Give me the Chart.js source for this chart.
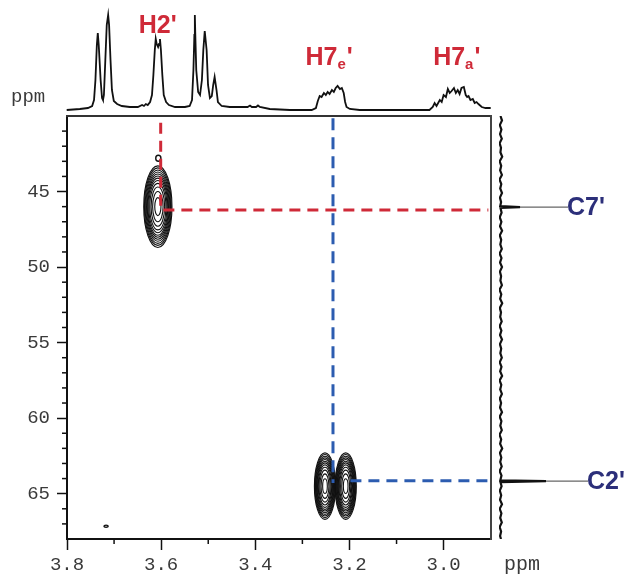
<!DOCTYPE html>
<html>
<head>
<meta charset="utf-8">
<script src="https://cdn.jsdelivr.net/npm/chart.js@4.4.0/dist/chart.umd.min.js"></script>
<style>
  html, body { margin: 0; padding: 0; background: #fff; }
  #wrap { position: relative; width: 624px; height: 576px; overflow: hidden; }
  #wrap canvas { position: absolute; }
</style>
</head>
<body>
<div id="wrap">
  <canvas id="chMain" width="624" height="576" style="left:0;top:0"></canvas>
  <canvas id="chTop" width="624" height="116" style="left:0;top:0"></canvas>
  <canvas id="chRight" width="134" height="576" style="left:490px;top:0"></canvas>
</div>
<script>
// ---- 1H projection (top), ppm vs intensity ----
const protonPpm = [3.800, 3.772, 3.755, 3.746, 3.742, 3.739, 3.736, 3.734, 3.732, 3.728,
  3.725, 3.723, 3.721, 3.718, 3.715, 3.712, 3.710, 3.707, 3.704, 3.700,
  3.693, 3.683, 3.666, 3.649, 3.640, 3.636, 3.632, 3.628, 3.623, 3.619,
  3.616, 3.613, 3.611, 3.609, 3.606, 3.604, 3.602, 3.600, 3.597, 3.594,
  3.589, 3.583, 3.570, 3.549, 3.539, 3.534, 3.531, 3.529, 3.528, 3.527,
  3.525, 3.521, 3.517, 3.513, 3.510, 3.507, 3.503, 3.500, 3.496, 3.492,
  3.489, 3.486, 3.482, 3.479, 3.471, 3.454, 3.416, 3.411, 3.407, 3.398,
  3.394, 3.390, 3.369, 3.326, 3.280, 3.271, 3.267, 3.263, 3.259, 3.254,
  3.250, 3.246, 3.242, 3.237, 3.233, 3.229, 3.225, 3.220, 3.216, 3.212,
  3.209, 3.206, 3.199, 3.178, 3.030, 3.023, 3.019, 3.015, 3.008, 3.004,
  3.000, 2.995, 2.991, 2.987, 2.983, 2.978, 2.974, 2.970, 2.966, 2.962,
  2.957, 2.953, 2.950, 2.947, 2.943, 2.938, 2.934, 2.930, 2.926, 2.919,
  2.911, 2.900];
const protonInt = [0, 1, 2, 4, 10, 30, 65, 77, 65, 30,
  12, 10, 15, 50, 85, 95, 85, 50, 20, 9,
  6, 4, 3, 3, 5, 4, 6, 5, 8, 15,
  35, 60, 71, 66, 63, 66, 71, 60, 35, 15,
  8, 5, 3, 3, 4, 10, 40, 75, 95, 75,
  40, 18, 15, 30, 60, 79, 60, 25, 12, 14,
  25, 33, 20, 8, 4, 3, 3, 4.5, 3, 3,
  4.5, 3, 1, 0, 0, 2, 9, 14, 13, 17,
  15, 18, 16, 20, 18, 22, 24, 21, 22, 17,
  8, 3, 1, 0, 0, 3, 7, 4, 10, 8,
  15, 13, 21, 17, 19, 22, 17, 20, 16, 22,
  23, 15, 13, 14, 10, 11, 7, 8, 6, 3,
  2, 2];

// ---- 13C projection (right), ppm vs intensity ----
const carbonPpm = [40.0, 40.3, 40.6, 40.9, 41.2, 41.5, 41.8, 42.1, 42.4, 42.7,
  43.0, 43.3, 43.6, 43.9, 44.2, 44.5, 44.8, 45.1, 45.4, 45.7,
  45.97, 46.03, 46.09, 46.4, 46.7, 47.0, 47.3, 47.6, 47.9, 48.2,
  48.5, 48.8, 49.1, 49.4, 49.7, 50.0, 50.3, 50.6, 50.9, 51.2,
  51.5, 51.8, 52.1, 52.4, 52.7, 53.0, 53.3, 53.6, 53.9, 54.2,
  54.5, 54.8, 55.1, 55.4, 55.7, 56.0, 56.3, 56.6, 56.9, 57.2,
  57.5, 57.8, 58.1, 58.4, 58.7, 59.0, 59.3, 59.6, 59.9, 60.2,
  60.5, 60.8, 61.1, 61.4, 61.7, 62.0, 62.3, 62.6, 62.9, 63.2,
  63.5, 63.8, 64.11, 64.17, 64.23, 64.5, 64.8, 65.1, 65.4, 65.7,
  66.0, 66.3, 66.6, 66.9, 67.2, 67.5, 67.8, 68.0];
const carbonInt = [1.5, 3, 0.8, 2.4, 1, 2.8, 0.6, 2, 1.4, 3.2,
  0.7, 2.2, 1.1, 2.9, 0.5, 2.3, 1.2, 3, 0.9, 2.1,
  1.2, 21, 1.5, 2.6, 0.7, 2.4, 1, 3.1, 0.8, 2.2,
  1.3, 2.8, 0.6, 2.5, 1, 3, 0.9, 2.1, 1.4, 2.9,
  0.5, 2.3, 1.1, 3.2, 0.8, 2, 1.2, 2.7, 0.6, 2.4,
  1, 3, 0.9, 2.2, 1.3, 2.8, 0.7, 2.5, 1.1, 3.1,
  0.6, 2.3, 1.2, 2.9, 0.8, 2.1, 1, 3, 0.7, 2.4,
  1.3, 2.8, 0.5, 2.2, 1.1, 3.2, 0.9, 2.3, 1.2, 2.7,
  0.6, 2.5, 1.3, 47, 1.4, 2.6, 0.8, 2.2, 1, 3,
  0.7, 2.4, 1.2, 2.8, 0.6, 2.1, 1.1, 2];

// ---- 2D cross peaks (1H ppm, 13C ppm, half widths in ppm) ----
const crossH  = [3.607, 3.252, 3.208];
const crossC  = [46.0, 64.5, 64.5];
const crossDH = [0.030, 0.0225, 0.0225];
const crossDC = [2.7, 2.2, 2.2];
// tiny single-contour spots
const spotH  = [3.606, 3.717];
const spotC  = [42.8, 67.15];
const spotDH = [0.0055, 0.0045];
const spotDC = [0.2, 0.07];

// ---- correlation guides ----
const redGuideX  = [3.601, 3.601, 2.905];
const redGuideY  = [40.45, 46.23, 46.23];
const blueVertX  = [3.235, 3.235];
const blueVertY  = [40.15, 64.3];
const blueHorzX  = [3.198, 2.907];
const blueHorzY  = [64.15, 64.15];

// ---- ticks ----
const xMajorTicks = [3.8, 3.6, 3.4, 3.2, 3.0];
const xMinorTicks = [3.7, 3.5, 3.3, 3.1];
const yMajorTicks = [45, 50, 55, 60, 65];
const yMinorTicks = [41, 42, 43, 44, 46, 47, 48, 49, 51, 52, 53, 54, 56, 57, 58, 59, 61, 62, 63, 64, 66, 67];

// ---- labels ----
const protonLabels = [
  { text: 'H2', sub: '', ppm: 3.607, at: 77 },
  { text: 'H7', sub: 'e', ppm: 3.243, at: 45 },
  { text: 'H7', sub: 'a', ppm: 2.972, at: 45 }
];
const carbonLabels = [
  { text: "C7'", ppm: 46.03, at: 69 },
  { text: "C2'", ppm: 64.17, at: 89 }
];
const c7Leader = [21, 69];
const c2Leader = [47, 89];

const RED = '#cf2a38';
const BLUE = '#2c5cb0';
const NAVY = '#2c2f7a';
const TICK_FONT = { family: 'Liberation Mono', size: 19 };
const TICK_COLOR = '#3a3a3a';
const ringLevels = [1.0, 0.95, 0.90, 0.85, 0.80, 0.75, 0.70, 0.64, 0.57, 0.48, 0.37, 0.22];

const pts = (xs, ys) => xs.map((v, i) => ({ x: v, y: ys[i] }));

// contours drawn through the chart scales
const contourPlugin = {
  id: 'contours',
  beforeDatasetsDraw(chart) {
    const { ctx, scales: { x, y } } = chart;
    const ell = (h, c, dh, dc, levels, lw) => {
      const cx = x.getPixelForValue(h), cy = y.getPixelForValue(c);
      const rx = Math.abs(x.getPixelForValue(h + dh) - cx);
      const ry = Math.abs(y.getPixelForValue(c + dc) - cy);
      ctx.lineWidth = lw;
      levels.forEach(f => {
        ctx.beginPath();
        ctx.ellipse(cx, cy, rx * f, ry * f, 0, 0, Math.PI * 2);
        ctx.stroke();
      });
    };
    ctx.save();
    ctx.strokeStyle = '#111';
    crossH.forEach((h, i) => ell(h, crossC[i], crossDH[i], crossDC[i], ringLevels, 1.1));
    spotH.forEach((h, i) => ell(h, spotC[i], spotDH[i], spotDC[i], [1], 1.4));
    ctx.restore();
  }
};

const axisExtras = {
  id: 'axisExtras',
  afterDraw(chart) {
    const { ctx, chartArea, scales: { x, y } } = chart;
    ctx.save();
    ctx.strokeStyle = '#111';
    ctx.lineWidth = 1.5;
    xMinorTicks.forEach(v => {
      const px = x.getPixelForValue(v);
      ctx.beginPath(); ctx.moveTo(px, chartArea.bottom); ctx.lineTo(px, chartArea.bottom + 5); ctx.stroke();
    });
    yMinorTicks.forEach(v => {
      const py = y.getPixelForValue(v);
      ctx.beginPath(); ctx.moveTo(chartArea.left, py); ctx.lineTo(chartArea.left - 5, py); ctx.stroke();
    });
    ctx.fillStyle = TICK_COLOR;
    ctx.font = '20px "Liberation Mono"';
    ctx.textBaseline = 'alphabetic';
    ctx.fillText('ppm', 504, 570);
    ctx.restore();
  }
};

new Chart(document.getElementById('chMain'), {
  type: 'scatter',
  data: {
    datasets: [
      { data: pts(redGuideX, redGuideY), showLine: true, borderColor: RED, borderWidth: 3, borderDash: [11, 7], pointRadius: 0 },
      { data: pts(blueVertX, blueVertY), showLine: true, borderColor: BLUE, borderWidth: 3, borderDash: [12, 7], pointRadius: 0 },
      { data: pts(blueHorzX, blueHorzY), showLine: true, borderColor: BLUE, borderWidth: 3, borderDash: [11, 7], pointRadius: 0 }
    ]
  },
  options: {
    responsive: false,
    animation: false,
    events: [],
    layout: { padding: { left: 0, top: 116, right: 133.3, bottom: 0 } },
    scales: {
      x: {
        type: 'linear', position: 'bottom', reverse: true, min: 2.90, max: 3.80,
        afterBuildTicks: s => { s.ticks = xMajorTicks.map(v => ({ value: v })); },
        afterFit: s => { s.height = 37; },
        ticks: { font: TICK_FONT, color: TICK_COLOR, padding: 4, maxRotation: 0, autoSkip: false, callback: v => v.toFixed(1) },
        grid: { drawOnChartArea: false, tickLength: 11, tickColor: '#111', tickWidth: 1.5 },
        border: { color: '#111', width: 2 }
      },
      y: {
        type: 'linear', position: 'left', reverse: true, min: 40, max: 68,
        afterBuildTicks: s => { s.ticks = yMajorTicks.map(v => ({ value: v })); },
        afterFit: s => { s.width = 67; },
        ticks: { font: TICK_FONT, color: TICK_COLOR, padding: 7, callback: v => String(v) },
        grid: { drawOnChartArea: false, tickLength: 10, tickColor: '#111', tickWidth: 1.5 },
        border: { color: '#111', width: 2 }
      },
      xTop: {
        type: 'linear', position: 'top', display: true,
        afterFit: s => { s.height = 0; },
        ticks: { display: false }, grid: { display: false },
        border: { color: '#333', width: 2 }
      },
      yRight: {
        type: 'linear', position: 'right', display: true,
        afterFit: s => { s.width = 0; },
        ticks: { display: false }, grid: { display: false },
        border: { color: '#444', width: 2 }
      }
    },
    plugins: { legend: { display: false }, tooltip: { enabled: false } }
  },
  plugins: [contourPlugin, axisExtras]
});

// proton labels with subscript and prime
const protonLabelPlugin = {
  id: 'protonLabels',
  afterDraw(chart) {
    const { ctx, scales: { x, y } } = chart;
    ctx.save();
    ctx.fillStyle = RED;
    ctx.textBaseline = 'alphabetic';
    const big = 'bold 25px "Liberation Sans"', small = 'bold 15px "Liberation Sans"';
    protonLabels.forEach(l => {
      ctx.font = big;
      const wMain = ctx.measureText(l.text).width;
      const wPrime = ctx.measureText("'").width;
      ctx.font = small;
      const wSub = l.sub ? ctx.measureText(l.sub).width + 1 : 0;
      const total = wMain + wSub + wPrime;
      let px = x.getPixelForValue(l.ppm) - total / 2;
      const py = y.getPixelForValue(l.at);
      ctx.font = big; ctx.fillText(l.text, px, py); px += wMain;
      if (l.sub) { ctx.font = small; ctx.fillText(l.sub, px, py + 4); px += wSub; }
      ctx.font = big; ctx.fillText("'", px, py);
    });
    ctx.fillStyle = TICK_COLOR;
    ctx.font = '19px "Liberation Mono"';
    ctx.fillText('ppm', 11, 102);
    ctx.restore();
  }
};

new Chart(document.getElementById('chTop'), {
  type: 'scatter',
  data: {
    datasets: [{ data: pts(protonPpm, protonInt), showLine: true, borderColor: '#111', borderWidth: 1.8, pointRadius: 0, tension: 0, clip: false }]
  },
  options: {
    responsive: false, animation: false, events: [],
    layout: { padding: { left: 66.7, right: 133.3, top: 15, bottom: 6 } },
    scales: {
      x: { type: 'linear', reverse: true, min: 2.90, max: 3.80, display: false },
      y: { type: 'linear', min: 0, max: 95, display: false }
    },
    plugins: { legend: { display: false }, tooltip: { enabled: false } }
  },
  plugins: [protonLabelPlugin]
});

const carbonLabelPlugin = {
  id: 'carbonLabels',
  afterDraw(chart) {
    const { ctx, scales: { x, y } } = chart;
    ctx.save();
    ctx.fillStyle = NAVY;
    ctx.font = 'bold 25px "Liberation Sans"';
    ctx.textBaseline = 'middle';
    carbonLabels.forEach(l => ctx.fillText(l.text, x.getPixelForValue(l.at) - 1, y.getPixelForValue(l.ppm) + 1));
    ctx.restore();
  }
};

new Chart(document.getElementById('chRight'), {
  type: 'scatter',
  data: {
    datasets: [
      { data: pts(carbonInt, carbonPpm), showLine: true, borderColor: '#111', borderWidth: 2.2, pointRadius: 0, tension: 0 },
      { data: pts(c7Leader, [46.03, 46.03]), showLine: true, borderColor: '#666', borderWidth: 1.3, pointRadius: 0 },
      { data: pts(c2Leader, [64.17, 64.17]), showLine: true, borderColor: '#666', borderWidth: 1.3, pointRadius: 0 }
    ]
  },
  options: {
    responsive: false, animation: false, events: [],
    layout: { padding: { left: 9, right: 25, top: 116, bottom: 37 } },
    scales: {
      x: { type: 'linear', min: 0, max: 100, display: false },
      y: { type: 'linear', reverse: true, min: 40, max: 68, display: false }
    },
    plugins: { legend: { display: false }, tooltip: { enabled: false } }
  },
  plugins: [carbonLabelPlugin]
});
</script>
</body>
</html>
